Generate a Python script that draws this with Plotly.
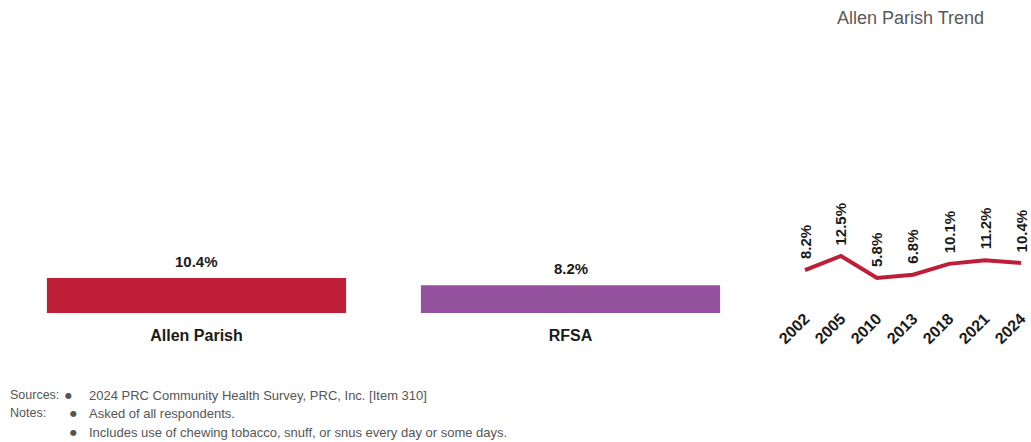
import plotly.graph_objects as go

# Werte
kategorien = ["Allen Parish", "RFSA"]
werte = [10.4, 8.2]
balken_farben = ["#BE1E37", "#93519E"]

jahre = ["2002", "2005", "2010", "2013", "2018", "2021", "2024"]
trend = [8.2, 12.5, 5.8, 6.8, 10.1, 11.2, 10.4]

titel_trend = "Allen Parish Trend"
fussnoten_kopf = ["Sources:", "Notes:", ""]
fussnoten_text = [
    "2024 PRC Community Health Survey, PRC, Inc. [Item 310]",
    "Asked of all respondents.",
    "Includes use of chewing tobacco, snuff, or snus every day or some days.",
]

schrift = "Liberation Sans, Arial, sans-serif"
rot = "#BE1E37"

fig = go.Figure()

fig.add_trace(go.Bar(
    x=kategorien, y=werte,
    marker=dict(color=balken_farben, line=dict(width=0)),
    width=0.8,
    xaxis="x", yaxis="y",
    hoverinfo="skip",
))

# Balkenbeschriftungen
for k, v in zip(kategorien, werte):
    fig.add_annotation(
        x=k, y=v, xref="x", yref="y",
        text=f"<b>{v:.1f}%</b>", showarrow=False,
        xanchor="center", yanchor="bottom", yshift=6,
        font=dict(family=schrift, size=15, color="#1a1a1a"),
    )

fig.add_trace(go.Scatter(
    x=jahre, y=trend, mode="lines",
    line=dict(color=rot, width=4),
    xaxis="x2", yaxis="y2",
    hoverinfo="skip",
))

# gedrehte Datenbeschriftungen der Trendlinie (x als Kategorie-Index)
for i, v in enumerate(trend):
    fig.add_annotation(
        x=i, y=v, xref="x2", yref="y2",
        text=f"<b>{v:.1f}%</b>", textangle=-90,
        showarrow=False, xanchor="center", yanchor="bottom", yshift=9,
        font=dict(family=schrift, size=15, color="#1a1a1a"),
    )

fig.add_annotation(
    x=835 / 1031, y=1 - 18 / 442, xref="paper", yref="paper",
    text=titel_trend, showarrow=False, xanchor="left", yanchor="middle",
    font=dict(family=schrift, size=18, color="#595959"),
)

zeilen_y = [395, 413, 432]
bullet_x = [68, 73, 73]
for kopf, txt, py, bx in zip(fussnoten_kopf, fussnoten_text, zeilen_y, bullet_x):
    yy = 1 - py / 442
    if kopf:
        fig.add_annotation(x=8 / 1031, y=yy, xref="paper", yref="paper", text=kopf,
                           showarrow=False, xanchor="left", yanchor="middle",
                           font=dict(family=schrift, size=12.5, color="#555555"))
    fig.add_annotation(x=bx / 1031, y=yy, xref="paper", yref="paper", text="●",
                       showarrow=False, xanchor="center", yanchor="middle",
                       font=dict(family="DejaVu Sans", size=8, color="#555555"))
    fig.add_annotation(x=87 / 1031, y=yy, xref="paper", yref="paper", text=txt,
                       showarrow=False, xanchor="left", yanchor="middle",
                       font=dict(family=schrift, size=13, color="#555555"))

fig.update_layout(
    width=1031, height=442,
    margin=dict(l=0, r=0, t=0, b=0, autoexpand=False),
    paper_bgcolor="white", plot_bgcolor="white",
    showlegend=False,
    font=dict(family=schrift),
    xaxis=dict(
        domain=[9.5 / 1031, 757.5 / 1031],
        showline=False, showgrid=False, zeroline=False, automargin=False,
        ticks="outside", ticklen=8, tickcolor="rgba(0,0,0,0)",
        tickfont=dict(family=schrift, size=16, color="#1a1a1a", weight="bold"),
        anchor="y",
    ),
    yaxis=dict(
        domain=[(442 - 313) / 442, 1],
        range=[0, 313 / 3.37],
        visible=False, automargin=False,
    ),
    xaxis2=dict(
        type="category",
        domain=[783.6 / 1031, 1],
        range=[-0.594, 6.278],
        showline=False, showgrid=False, zeroline=False, automargin=False,
        ticks="outside", ticklen=5, tickcolor="rgba(0,0,0,0)",
        tickangle=-45,
        tickfont=dict(family=schrift, size=16, color="#1a1a1a", weight="bold"),
        anchor="y2",
    ),
    yaxis2=dict(
        domain=[(442 - 297) / 442, 1],
        range=[0, 297 / 3.28],
        visible=False, automargin=False,
    ),
)

fig.write_html("out.html", config={"displayModeBar": False},
               post_script="document.body.style.margin='0';")
